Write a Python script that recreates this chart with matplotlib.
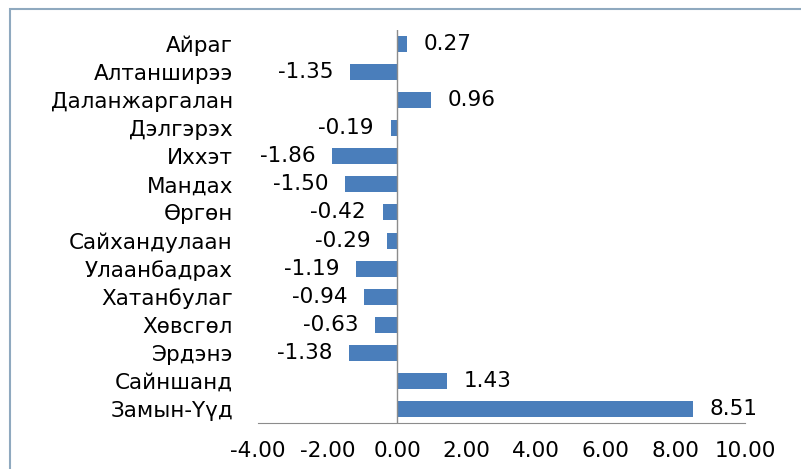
import matplotlib
matplotlib.use("Agg")
import matplotlib.pyplot as plt
from matplotlib.patches import Rectangle

plt.rcParams['font.family'] = ['DejaVu Sans']

# data
categories = ["Айраг", "Алтанширээ", "Даланжаргалан", "Дэлгэрэх", "Иххэт", "Мандах",
              "Өргөн", "Сайхандулаан", "Улаанбадрах", "Хатанбулаг", "Хөвсгөл",
              "Эрдэнэ", "Сайншанд", "Замын-Үүд"]
values = [0.27, -1.35, 0.96, -0.19, -1.86, -1.50, -0.42, -0.29, -1.19, -0.94,
          -0.63, -1.38, 1.43, 8.51]
xticks = [-4, -2, 0, 2, 4, 6, 8, 10]

W, H = 801, 469
FS = 15.5
fig = plt.figure(figsize=(W / 100, H / 100), dpi=100)
fig.patch.set_facecolor("white")

# outer frame (cropped chart border)
fig.patches.append(Rectangle((10 / W, -0.1), 1.0, (H - 9) / H + 0.1,
                             transform=fig.transFigure, fill=False,
                             edgecolor="#8fa9bf", linewidth=1.5))

ax = fig.add_axes([258 / W, 1 - 423 / H, (745 - 258) / W, (423 - 30) / H])
ypos = list(range(len(categories)))
ax.barh(ypos, values, height=0.57, color="#4a7ebb", zorder=2)

ax.set_xlim(-4, 10)
ax.set_ylim(len(categories) - 0.5, -0.5)
ax.axvline(0, color="#8c8c8c", linewidth=1, zorder=3)

for y, v in zip(ypos, values):
    if v >= 0:
        ax.annotate(f"{v:.2f}", xy=(v, y), xytext=(12, 0), textcoords="offset points",
                    ha="left", va="center", fontsize=FS)
    else:
        ax.annotate(f"{v:.2f}", xy=(v, y), xytext=(-12, 0), textcoords="offset points",
                    ha="right", va="center", fontsize=FS)

ax.set_yticks(ypos)
ax.set_yticklabels(categories, fontsize=FS)
ax.set_xticks(xticks)
ax.set_xticklabels([f"{t:.2f}" for t in xticks], fontsize=FS)
ax.tick_params(axis="y", length=0, pad=18)
ax.tick_params(axis="x", length=0, pad=13)

for s in ["top", "right", "left"]:
    ax.spines[s].set_visible(False)
ax.spines["bottom"].set_color("#8c8c8c")
ax.set_facecolor("none")

fig.savefig("out.png", dpi=100)
